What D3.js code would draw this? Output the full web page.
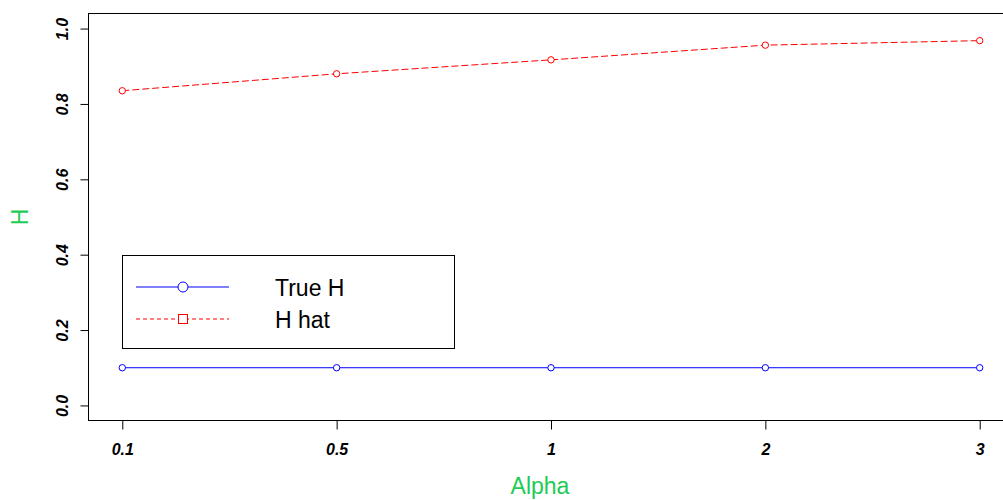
<!DOCTYPE html>
<html>
<head>
<meta charset="utf-8">
<script src="https://cdn.jsdelivr.net/npm/d3@7/dist/d3.min.js"></script>
<style>
  html, body { margin: 0; padding: 0; background: #fff; }
  svg { display: block; font-family: "Liberation Sans", Arial, sans-serif; }
</style>
</head>
<body>
<svg id="chart" width="1003" height="500"></svg>
<script>
// Categories on the x axis (Alpha values)
const alphaLabels = ["0.1", "0.5", "1", "2", "3"];
// True H for each alpha
const trueH = [0.1, 0.1, 0.1, 0.1, 0.1];
// Estimated H for each alpha
const hHat = [0.835, 0.880, 0.917, 0.956, 0.968];
// Y axis tick values
const yTicks = [0.0, 0.2, 0.4, 0.6, 0.8, 1.0];

const svg = d3.select("#chart");
const green = "#1ecc55";
const tickFont = "'Liberation Sans', Arial, sans-serif";

const plotL = 88, plotR = 1014, plotT = 13.5, plotB = 420.5;

const x = d3.scalePoint().domain(alphaLabels).range([plotL, plotR]).padding(0.16);
const y = d3.scaleLinear().domain([-0.04, 1.04]).range([plotB, plotT]);

// plot frame
svg.append("rect")
  .attr("x", plotL + 0.5).attr("y", plotT)
  .attr("width", plotR - plotL).attr("height", plotB - plotT)
  .attr("fill", "none").attr("stroke", "#000").attr("stroke-width", 1);

// x axis
const xAxis = d3.axisBottom(x).tickSize(9).tickPadding(14);
const gx = svg.append("g").attr("transform", `translate(0,${plotB})`).call(xAxis);
gx.select(".domain").remove();
gx.selectAll(".tick line").attr("stroke", "#000");
gx.selectAll(".tick text")
  .attr("font-size", 16).attr("font-weight", "bold").attr("font-style", "italic")
  .attr("fill", "#000").attr("font-family", tickFont);

// y axis
const yAxis = d3.axisLeft(y).tickValues(yTicks).tickFormat(d3.format(".1f")).tickSize(8);
const gy = svg.append("g").attr("transform", `translate(${plotL + 0.5},0)`).call(yAxis);
gy.select(".domain").remove();
gy.selectAll(".tick line").attr("stroke", "#000");
gy.selectAll(".tick text")
  .attr("x", null)
  .attr("text-anchor", "middle")
  .attr("transform", "translate(-26,0) rotate(-90)")
  .attr("dy", "0.36em")
  .attr("font-size", 16).attr("font-weight", "bold").attr("font-style", "italic")
  .attr("fill", "#000").attr("font-family", tickFont);

// axis titles
svg.append("text")
  .attr("x", (plotL + plotR) / 2 - 11).attr("y", 494)
  .attr("text-anchor", "middle").attr("font-size", 23).attr("fill", green)
  .text("Alpha");
svg.append("text")
  .attr("transform", "translate(28,217) rotate(-90)")
  .attr("text-anchor", "middle").attr("font-size", 23).attr("fill", green)
  .text("H");

// series
const line = d3.line().x((d, i) => x(alphaLabels[i])).y(d => y(d));

svg.append("path").datum(trueH)
  .attr("d", line).attr("fill", "none").attr("stroke", "#0000ff").attr("stroke-width", 1);
svg.append("path").datum(hHat)
  .attr("d", line).attr("fill", "none").attr("stroke", "#ff0000").attr("stroke-width", 1)
  .attr("stroke-dasharray", "7,3");

svg.append("g").selectAll("circle").data(trueH).join("circle")
  .attr("cx", (d, i) => x(alphaLabels[i])).attr("cy", d => y(d)).attr("r", 3.2)
  .attr("fill", "#fff").attr("stroke", "#0000ff").attr("stroke-width", 1);
svg.append("g").selectAll("circle").data(hHat).join("circle")
  .attr("cx", (d, i) => x(alphaLabels[i])).attr("cy", d => y(d)).attr("r", 3.2)
  .attr("fill", "#fff").attr("stroke", "#ff0000").attr("stroke-width", 1);

// legend
const lg = svg.append("g");
lg.append("rect")
  .attr("x", 122.5).attr("y", 255.5).attr("width", 332).attr("height", 93)
  .attr("fill", "#fff").attr("stroke", "#000").attr("stroke-width", 1);

const legendItems = [
  { label: "True H", color: "#0000ff", dash: null, shape: "circle", yy: 287 },
  { label: "H hat", color: "#ff0000", dash: "4,3", shape: "square", yy: 319 }
];
legendItems.forEach(it => {
  lg.append("line")
    .attr("x1", 136).attr("x2", 229).attr("y1", it.yy).attr("y2", it.yy)
    .attr("stroke", it.color).attr("stroke-width", 1)
    .attr("stroke-dasharray", it.dash);
  if (it.shape === "circle") {
    lg.append("circle").attr("cx", 183).attr("cy", it.yy).attr("r", 5)
      .attr("fill", "#fff").attr("stroke", it.color).attr("stroke-width", 1);
  } else {
    lg.append("rect").attr("x", 178.5).attr("y", it.yy - 4.5).attr("width", 9).attr("height", 9)
      .attr("fill", "#fff").attr("stroke", it.color).attr("stroke-width", 1);
  }
  lg.append("text")
    .attr("x", 275).attr("y", it.yy + 9)
    .attr("font-size", 23).attr("fill", "#000")
    .text(it.label);
});
</script>
</body>
</html>
